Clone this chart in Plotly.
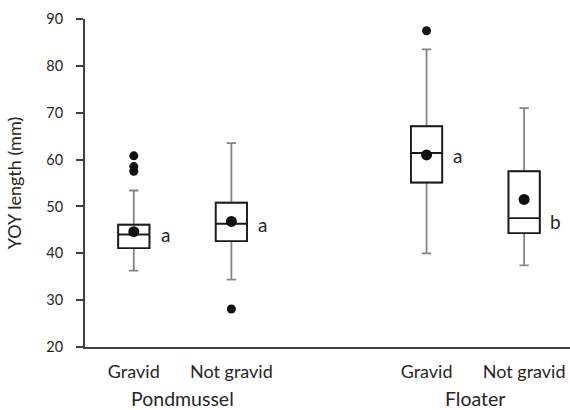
import plotly.graph_objects as go

# ---- data ----
groups = ["Pondmussel", "Pondmussel", "Floater", "Floater"]
categories = ["Gravid", "Not gravid", "Gravid", "Not gravid"]
positions = [1, 2, 4, 5]
group_positions = [1.5, 4.5]
group_labels = ["Pondmussel", "Floater"]
q1 = [41.1, 42.6, 55.1, 44.3]
median = [44.0, 46.3, 61.4, 47.5]
q3 = [46.1, 50.8, 67.1, 57.5]
lower_whisker = [36.3, 34.4, 40.0, 37.4]
upper_whisker = [53.4, 63.5, 83.5, 71.0]
means = [44.6, 46.8, 61.0, 51.5]
outliers = [[60.8, 58.5, 57.5], [28.1], [87.5], []]
letters = ["a", "a", "a", "b"]
letter_y = [44.0, 46.2, 60.9, 46.8]
y_ticks = [20, 30, 40, 50, 60, 70, 80, 90]

FONT = "Lato"
TXT = "#262626"
AX = "#404040"

fig = go.Figure()

# whiskers (gray)
fig.add_trace(go.Box(
    x=positions, q1=q1, median=median, q3=q3,
    lowerfence=lower_whisker, upperfence=upper_whisker,
    width=0.32, whiskerwidth=0.3,
    line=dict(color="#858585", width=1.8),
    fillcolor="white", boxpoints=False, hoverinfo="skip", showlegend=False,
))
# box body (black)
fig.add_trace(go.Box(
    x=positions, q1=q1, median=median, q3=q3,
    lowerfence=q1, upperfence=q3,
    width=0.32, whiskerwidth=0,
    line=dict(color="#1a1a1a", width=1.9),
    fillcolor="white", boxpoints=False, hoverinfo="skip", showlegend=False,
))

# outliers
ox, oy = [], []
for p, vals in zip(positions, outliers):
    for v in vals:
        ox.append(p)
        oy.append(v)
fig.add_trace(go.Scatter(x=ox, y=oy, mode="markers",
                         marker=dict(color="#111111", size=9),
                         showlegend=False, hoverinfo="skip"))
# means
fig.add_trace(go.Scatter(x=positions, y=means, mode="markers",
                         marker=dict(color="#111111", size=11),
                         showlegend=False, hoverinfo="skip"))

# letters
for p, l, ly in zip(positions, letters, letter_y):
    fig.add_annotation(x=p + 0.32, y=ly, text=l, showarrow=False,
                       xanchor="center", yanchor="middle",
                       font=dict(family=FONT, size=19, color=TXT))

# group labels
for gp, gl in zip(group_positions, group_labels):
    fig.add_annotation(x=gp, y=-0.157, xref="x", yref="paper", text=gl,
                       showarrow=False, xanchor="center", yanchor="middle",
                       font=dict(family=FONT, size=19.5, color=TXT))

fig.update_layout(
    width=570, height=410,
    margin=dict(l=85, r=0, t=18.5, b=63.3),
    plot_bgcolor="white", paper_bgcolor="white",
    boxmode="overlay",
    showlegend=False,
    font=dict(family=FONT, color=TXT),
)
fig.update_xaxes(
    range=[0.5, 5.47], tickvals=positions, ticktext=categories,
    showgrid=False, zeroline=False, showline=True, linecolor=AX, linewidth=1.8,
    ticks="outside", ticklen=7, tickcolor="rgba(0,0,0,0)",
    tickfont=dict(family=FONT, size=18, color=TXT),
)
fig.update_yaxes(
    range=[20, 90], tickvals=y_ticks,
    showgrid=False, zeroline=False, showline=True, linecolor=AX, linewidth=1.8,
    ticks="outside", ticklen=7, tickcolor=AX, tickwidth=1.5,
    ticklabelstandoff=10,
    tickfont=dict(family=FONT, size=14.5, color=TXT),
    title=dict(text="YOY length (mm)", font=dict(family=FONT, size=18, color=TXT), standoff=20),
)

fig.write_html(
    "out.html",
    config={"displayModeBar": False},
    post_script="document.body.style.margin='0';document.body.style.overflow='hidden';",
)
